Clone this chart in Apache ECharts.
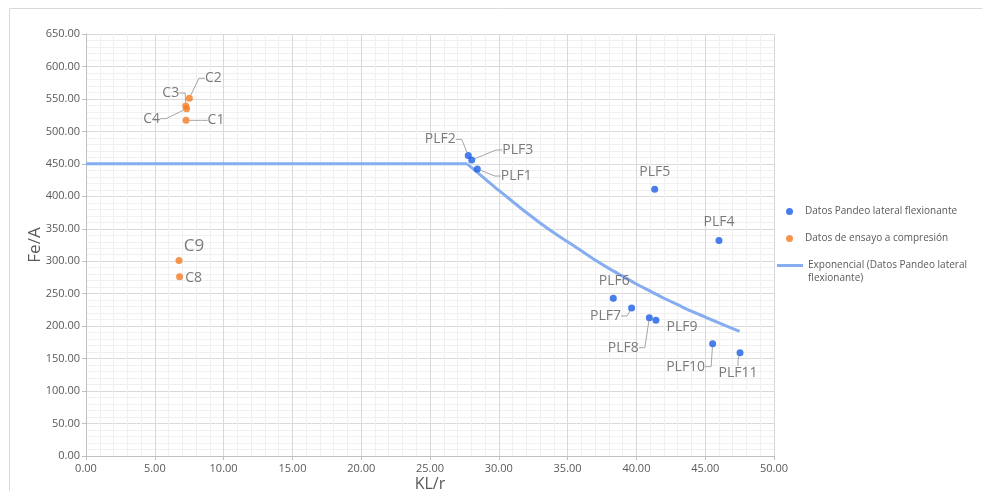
<!DOCTYPE html>
<html><head><meta charset="utf-8">
<script src="https://cdn.jsdelivr.net/npm/echarts@6/dist/echarts.min.js"></script>
<style>html,body{margin:0;padding:0;background:#fff}#c{width:982px;height:491px}</style>
</head><body><div id="c"></div>
<script>
// ---- Data ----
const plfNames = ['PLF1','PLF2','PLF3','PLF4','PLF5','PLF6','PLF7','PLF8','PLF9','PLF10','PLF11'];
const plfX = [28.44, 27.78, 28.03, 46.00, 41.33, 38.32, 39.65, 40.94, 41.42, 45.54, 47.53];
const plfY = [442, 463, 456, 332, 411, 243, 228, 213, 209, 173, 159];

const compNames = ['C1','C2','C3','C4','C8','C9'];
const compX = [7.27, 7.51, 7.25, 7.31, 6.80, 6.76];
const compY = [517, 551, 539, 535, 276, 301];

// trend line: flat part, then the decaying part
const flatX = [0, 27.7];
const flatY = [450, 450];
const curveX = [27.7, 29, 30, 31, 32, 33, 34, 35, 36, 37, 38, 39, 40, 41, 42, 43, 44, 45, 46, 47.5];
const curveY = [450, 427, 409, 392, 375, 359, 344, 330, 316, 302, 289, 277, 265, 254, 243, 233, 223, 214, 205, 192];

const seriesNames = ['Datos Pandeo lateral flexionante', 'Datos de ensayo a compresión', 'Exponencial (Datos Pandeo lateral flexionante)'];

// ---- Label placement (offset of label centre from its point, px; leader line?) ----
const labelPlace = {
  C1:[30,0,true], C2:[24,-20,true], C3:[-15,-13,true], C4:[-35,10,true], C8:[14,1,false], C9:[15,-14,false],
  PLF1:[39,7,true], PLF2:[-28,-16,true], PLF3:[46,-10,true], PLF4:[0,-18,false], PLF5:[0,-17,false],
  PLF6:[1,-17,false], PLF7:[-26,8,true], PLF8:[-26,30,true], PLF9:[26,7,false], PLF10:[-27,23,true], PLF11:[-2,20,true]
};

const FONT = '"Open Sans", "Noto Sans", sans-serif';
const TXT = '#595959';
const TREND = '#86adf0';

function pts(names, xs, ys, big) {
  return names.map((n, i) => ({
    name: n,
    value: [xs[i], ys[i]],
    label: big && big[n] ? { fontSize: big[n] } : undefined,
    labelLine: { show: labelPlace[n][2] }
  }));
}
function layoutFor(names) {
  return function (p) {
    const o = labelPlace[names[p.dataIndex]];
    return { dx: o[0], dy: o[1] };
  };
}
const labelCommon = {
  show: true, position: 'inside', formatter: '{b}',
  color: TXT, fontSize: 14, fontFamily: FONT
};
const lineCommon = { show: true, length2: 6, lineStyle: { color: '#a6a6a6', width: 1 } };

const chart = echarts.init(document.getElementById('c'));
chart.setOption({
  animation: false,
  backgroundColor: '#fff',
  graphic: [{
    type: 'rect', shape: { x: 9.5, y: 8.5, width: 980, height: 490 },
    style: { fill: 'none', stroke: '#d9d9d9', lineWidth: 1 }, silent: true, z: -10
  }],
  grid: { left: 86, right: 208, top: 34, bottom: 35, containLabel: false, outerBoundsMode: 'none' },
  legend: [{
    orient: 'vertical', left: 786, top: 205, padding: 0,
    itemWidth: 7, itemHeight: 7, itemGap: 14, icon: 'circle',
    data: [seriesNames[0], seriesNames[1]],
    formatter: n => '{t|' + n + '}',
    textStyle: { color: TXT, fontSize: 10, fontFamily: FONT, lineHeight: 13,
      rich: { t: { color: TXT, fontSize: 10, fontFamily: FONT, lineHeight: 13, padding: [0, 0, 0, 7] } } }
  }, {
    orient: 'vertical', left: 777, top: 246, padding: 0,
    itemWidth: 26, itemHeight: 3, icon: 'rect',
    data: [seriesNames[2]],
    formatter: () => '\nExponencial (Datos Pandeo lateral\nflexionante)',
    textStyle: { color: TXT, fontSize: 10, fontFamily: FONT, lineHeight: 13 }
  }],
  xAxis: {
    type: 'value', min: 0, max: 50, interval: 5,
    name: 'KL/r', nameLocation: 'middle', nameGap: 20, nameMoveOverlap: false,
    nameTextStyle: { color: TXT, fontSize: 16, fontFamily: FONT },
    axisLine: { show: true, lineStyle: { color: '#bfbfbf' } },
    axisTick: { show: true, length: 4, lineStyle: { color: '#bfbfbf' } },
    axisLabel: { color: TXT, fontSize: 11, fontFamily: FONT, margin: 7, formatter: v => v.toFixed(2) },
    splitLine: { show: true, lineStyle: { color: '#d9d9d9', width: 1 } },
    minorTick: { show: false, splitNumber: 5 },
    minorSplitLine: { show: true, lineStyle: { color: '#f0f0f0', width: 1 } }
  },
  yAxis: {
    type: 'value', min: 0, max: 650, interval: 50,
    name: 'Fe/A', nameLocation: 'middle', nameGap: 42, nameMoveOverlap: false,
    nameTextStyle: { color: TXT, fontSize: 17, fontFamily: FONT },
    axisLine: { show: true, lineStyle: { color: '#bfbfbf' } },
    axisTick: { show: true, length: 4, lineStyle: { color: '#bfbfbf' } },
    axisLabel: { color: TXT, fontSize: 11, fontFamily: FONT, margin: 6, formatter: v => v.toFixed(2) },
    splitLine: { show: true, lineStyle: { color: '#d9d9d9', width: 1 } },
    minorTick: { show: false, splitNumber: 5 },
    minorSplitLine: { show: true, lineStyle: { color: '#f0f0f0', width: 1 } }
  },
  series: [{
    name: seriesNames[0], type: 'scatter', symbolSize: 7, z: 3,
    itemStyle: { color: '#1a5ce6' },
    data: pts(plfNames, plfX, plfY),
    label: labelCommon, labelLine: lineCommon,
    labelLayout: layoutFor(plfNames)
  }, {
    name: seriesNames[1], type: 'scatter', symbolSize: 7, z: 3,
    itemStyle: { color: '#f47b20' },
    data: pts(compNames, compX, compY, { C9: 17 }),
    label: labelCommon, labelLine: lineCommon,
    labelLayout: layoutFor(compNames)
  }, {
    name: seriesNames[2], type: 'line', symbol: 'none', z: 2,
    lineStyle: { color: TREND, width: 3 }, itemStyle: { color: TREND },
    data: flatX.map((x, i) => [x, flatY[i]])
  }, {
    name: seriesNames[2], type: 'line', symbol: 'none', z: 2, smooth: 0.3,
    lineStyle: { color: TREND, width: 3 }, itemStyle: { color: TREND },
    data: curveX.map((x, i) => [x, curveY[i]])
  }]
});
</script></body></html>
